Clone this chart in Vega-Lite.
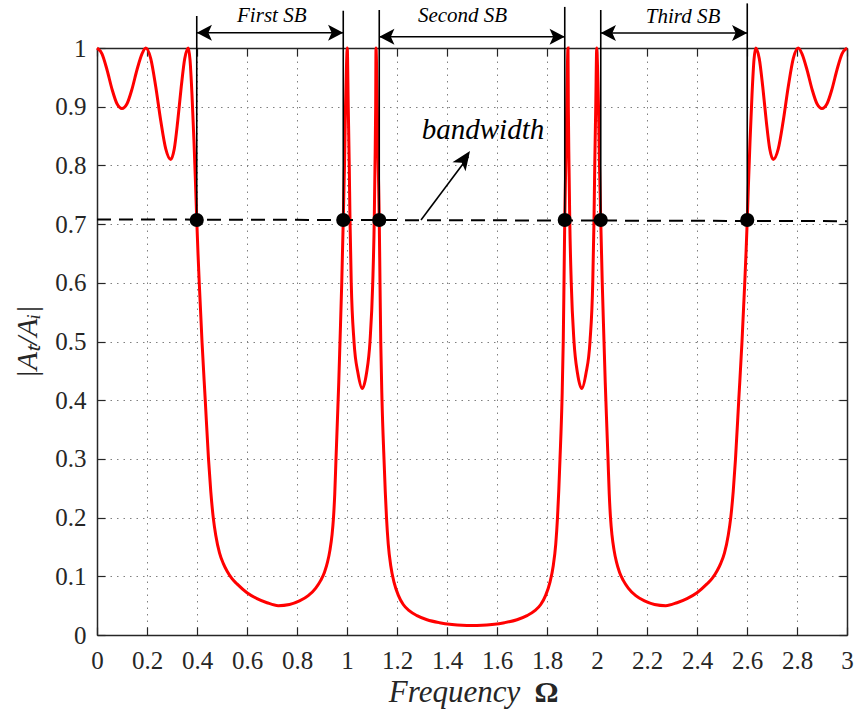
{
  "$schema": "https://vega.github.io/schema/vega-lite/v6.json",
  "width": 750,
  "height": 587,
  "autosize": {"type": "none"},
  "padding": {"left": 97, "top": 48, "right": 10, "bottom": 80},
  "background": "white",
  "config": {"view": {"stroke": null}},
  "datasets": {
    "curve": [
      {"x":0,"y":1.0},{"x":0.02,"y":0.99},{"x":0.04,"y":0.963},{"x":0.06,"y":0.93},{"x":0.08,"y":0.905},{"x":0.1,"y":0.897},{"x":0.12,"y":0.905},{"x":0.14,"y":0.93},{"x":0.16,"y":0.963},{"x":0.18,"y":0.99},{"x":0.195,"y":1.0},
      {"x":0.215,"y":0.982},{"x":0.235,"y":0.934},{"x":0.255,"y":0.876},{"x":0.275,"y":0.828},{"x":0.295,"y":0.81},{"x":0.309,"y":0.828},{"x":0.323,"y":0.876},{"x":0.337,"y":0.934},{"x":0.351,"y":0.982},{"x":0.365,"y":1.0},
      {"x":0.372,"y":0.98},{"x":0.38,"y":0.92},{"x":0.388,"y":0.84},{"x":0.394,"y":0.77},{"x":0.399,"y":0.707},{"x":0.404,"y":0.65},{"x":0.409,"y":0.6},{"x":0.42,"y":0.5},{"x":0.433,"y":0.4},{"x":0.446,"y":0.3},{"x":0.455,"y":0.245},{"x":0.465,"y":0.2},{"x":0.475,"y":0.17},{"x":0.49,"y":0.14},{"x":0.505,"y":0.122},{"x":0.52,"y":0.109},{"x":0.54,"y":0.096},{"x":0.56,"y":0.087},{"x":0.6,"y":0.072},{"x":0.64,"y":0.062},{"x":0.68,"y":0.055},{"x":0.725,"y":0.05},
      {"x":0.77,"y":0.052},{"x":0.81,"y":0.058},{"x":0.845,"y":0.067},{"x":0.875,"y":0.08},{"x":0.895,"y":0.093},{"x":0.91,"y":0.107},{"x":0.922,"y":0.124},{"x":0.932,"y":0.145},{"x":0.94,"y":0.17},{"x":0.946,"y":0.2},{"x":0.951,"y":0.24},{"x":0.956,"y":0.3},{"x":0.962,"y":0.37},{"x":0.967,"y":0.43},{"x":0.972,"y":0.5},{"x":0.979,"y":0.6},{"x":0.985,"y":0.707},{"x":0.99,"y":0.8},{"x":0.994,"y":0.9},{"x":0.998,"y":0.97},{"x":1.001,"y":1.0},
      {"x":1.005,"y":0.9},{"x":1.009,"y":0.8},{"x":1.012,"y":0.707},{"x":1.017,"y":0.6},{"x":1.028,"y":0.5},{"x":1.044,"y":0.446},{"x":1.061,"y":0.42},{"x":1.078,"y":0.446},{"x":1.092,"y":0.5},{"x":1.103,"y":0.6},{"x":1.109,"y":0.707},{"x":1.112,"y":0.8},{"x":1.1147,"y":0.9},{"x":1.116,"y":1.0},
      {"x":1.12,"y":0.93},{"x":1.125,"y":0.8},{"x":1.129,"y":0.707},{"x":1.132,"y":0.6},{"x":1.135,"y":0.5},{"x":1.14,"y":0.4},{"x":1.148,"y":0.3},{"x":1.153,"y":0.245},{"x":1.158,"y":0.2},{"x":1.165,"y":0.155},{"x":1.175,"y":0.118},{"x":1.188,"y":0.09},{"x":1.205,"y":0.068},{"x":1.225,"y":0.052},{"x":1.25,"y":0.041},{"x":1.28,"y":0.033},{"x":1.32,"y":0.026},{"x":1.37,"y":0.021},{"x":1.42,"y":0.018},{"x":1.46,"y":0.0165},{"x":1.5,"y":0.016},
      {"x":1.54,"y":0.0165},{"x":1.58,"y":0.018},{"x":1.63,"y":0.021},{"x":1.68,"y":0.026},{"x":1.72,"y":0.033},{"x":1.75,"y":0.041},{"x":1.775,"y":0.052},{"x":1.795,"y":0.068},{"x":1.812,"y":0.09},{"x":1.825,"y":0.118},{"x":1.835,"y":0.155},{"x":1.842,"y":0.2},{"x":1.847,"y":0.245},{"x":1.852,"y":0.3},{"x":1.86,"y":0.4},{"x":1.865,"y":0.5},{"x":1.868,"y":0.6},{"x":1.871,"y":0.707},{"x":1.875,"y":0.8},{"x":1.88,"y":0.93},{"x":1.884,"y":1.0},
      {"x":1.8853,"y":0.9},{"x":1.888,"y":0.8},{"x":1.891,"y":0.707},{"x":1.897,"y":0.6},{"x":1.908,"y":0.5},{"x":1.922,"y":0.446},{"x":1.939,"y":0.42},{"x":1.956,"y":0.446},{"x":1.972,"y":0.5},{"x":1.983,"y":0.6},{"x":1.988,"y":0.707},{"x":1.991,"y":0.8},{"x":1.995,"y":0.9},{"x":1.999,"y":1.0},
      {"x":2.002,"y":0.97},{"x":2.006,"y":0.9},{"x":2.01,"y":0.8},{"x":2.015,"y":0.707},{"x":2.021,"y":0.6},{"x":2.028,"y":0.5},{"x":2.033,"y":0.43},{"x":2.038,"y":0.37},{"x":2.044,"y":0.3},{"x":2.049,"y":0.24},{"x":2.054,"y":0.2},{"x":2.06,"y":0.17},{"x":2.068,"y":0.145},{"x":2.078,"y":0.124},{"x":2.09,"y":0.107},{"x":2.105,"y":0.093},{"x":2.125,"y":0.08},{"x":2.155,"y":0.067},{"x":2.19,"y":0.058},{"x":2.23,"y":0.052},{"x":2.275,"y":0.05},
      {"x":2.32,"y":0.055},{"x":2.36,"y":0.062},{"x":2.4,"y":0.072},{"x":2.44,"y":0.087},{"x":2.46,"y":0.096},{"x":2.48,"y":0.109},{"x":2.495,"y":0.122},{"x":2.51,"y":0.14},{"x":2.525,"y":0.17},{"x":2.535,"y":0.2},{"x":2.545,"y":0.245},{"x":2.554,"y":0.3},{"x":2.567,"y":0.4},{"x":2.58,"y":0.5},{"x":2.591,"y":0.6},{"x":2.596,"y":0.65},{"x":2.601,"y":0.707},{"x":2.606,"y":0.77},{"x":2.612,"y":0.84},{"x":2.62,"y":0.92},{"x":2.628,"y":0.98},{"x":2.635,"y":1.0},
      {"x":2.649,"y":0.982},{"x":2.663,"y":0.934},{"x":2.677,"y":0.876},{"x":2.691,"y":0.828},{"x":2.705,"y":0.81},{"x":2.725,"y":0.828},{"x":2.745,"y":0.876},{"x":2.765,"y":0.934},{"x":2.785,"y":0.982},{"x":2.805,"y":1.0},
      {"x":2.82,"y":0.99},{"x":2.84,"y":0.963},{"x":2.86,"y":0.93},{"x":2.88,"y":0.905},{"x":2.9,"y":0.897},{"x":2.92,"y":0.905},{"x":2.94,"y":0.93},{"x":2.96,"y":0.963},{"x":2.98,"y":0.99},{"x":3,"y":1.0}
    ],
    "dots": [
      {"x":0.399,"y":0.707,"top":1.0545},
      {"x":0.985,"y":0.707,"top":1.0635},
      {"x":1.129,"y":0.707,"top":1.0647},
      {"x":1.871,"y":0.707,"top":1.07},
      {"x":2.015,"y":0.707,"top":1.0647},
      {"x":2.601,"y":0.707,"top":1.076}
    ],
    "halfpower": [{"x":0,"y":0.708,"x2":3,"y2":0.705}],
    "arrows": [
      {"x1":0.399,"x2":0.985,"y":1.0261},
      {"x1":1.129,"x2":1.871,"y":1.0193},
      {"x1":2.015,"x2":2.601,"y":1.0256}
    ],
    "sblabels": [
      {"x":0.699,"y":1.054,"t":"First SB"},
      {"x":1.462,"y":1.055,"t":"Second SB"},
      {"x":2.344,"y":1.052,"t":"Third SB"}
    ],
    "bw": [{"x":1.296,"y":0.707,"x2":1.486,"y2":0.815}],
    "bwhead": [{"x":1.492,"y":0.8245}],
    "bwlabel": [{"x":1.544,"y":0.845,"t":"bandwidth"}],
    "omega": [{"x":1.798,"y":-0.1145,"t":"Ω"}]
  },
  "layer": [
    {
      "data": {"name": "curve"},
      "mark": {"type": "line", "color": "#ff0000", "strokeWidth": 3, "interpolate": "monotone"},
      "encoding": {
        "x": {"field": "x", "type": "quantitative",
          "scale": {"domain": [0, 3], "nice": false, "zero": false},
          "axis": {"orient": "bottom", "values": [0,0.2,0.4,0.6,0.8,1,1.2,1.4,1.6,1.8,2,2.2,2.4,2.6,2.8,3], "format": "~g",
            "labelFont": "Liberation Serif", "labelFontSize": 25, "labelColor": "#262626", "labelFlush": false, "labelOverlap": false,
            "labelBaseline": "top", "labelAlign": "center",
            "labelPadding": 21, "tickSize": -8, "tickColor": "#262626", "tickWidth": 1.2,
            "domainColor": "#262626", "domainWidth": 1.5,
            "grid": true, "gridColor": "#808080", "gridDash": [1.5, 5], "gridWidth": 1,
            "title": "Frequency", "titleFont": "Liberation Serif", "titleFontStyle": "italic", "titleFontWeight": "normal",
            "titleFontSize": 31, "titleColor": "#262626", "titlePadding": 4, "titleX": 357}},
        "y": {"field": "y", "type": "quantitative",
          "scale": {"domain": [0, 1], "nice": false, "zero": false},
          "axis": {"orient": "left", "values": [0,0.1,0.2,0.3,0.4,0.5,0.6,0.7,0.8,0.9,1], "format": "~g",
            "labelFont": "Liberation Serif", "labelFontSize": 25, "labelColor": "#262626", "labelFlush": false, "labelOverlap": false,
            "labelBaseline": "middle", "labelAlign": "right",
            "labelPadding": 19, "tickSize": -8, "tickColor": "#262626", "tickWidth": 1.2,
            "domainColor": "#262626", "domainWidth": 1.5,
            "grid": true, "gridColor": "#808080", "gridDash": [1.5, 5], "gridWidth": 1,
            "title": "|Aₜ/Aᵢ|", "titleFont": "Liberation Serif", "titleFontStyle": "italic", "titleFontWeight": "normal",
            "titleFontSize": 30, "titleColor": "#262626", "titlePadding": 12}}
      }
    },
    {
      "data": {"name": "halfpower"},
      "mark": {"type": "rule", "color": "black", "strokeWidth": 2, "strokeDash": [14, 8]},
      "encoding": {
        "x": {"field": "x", "type": "quantitative", "axis": null},
        "y": {"field": "y", "type": "quantitative", "axis": null},
        "x2": {"field": "x2"},
        "y2": {"field": "y2"}
      }
    },
    {
      "data": {"name": "dots"},
      "mark": {"type": "rule", "color": "black", "strokeWidth": 1.6},
      "encoding": {
        "x": {"field": "x", "type": "quantitative", "axis": null},
        "y": {"field": "y", "type": "quantitative", "axis": null},
        "y2": {"field": "top"}
      }
    },
    {
      "data": {"name": "dots"},
      "mark": {"type": "point", "filled": true, "color": "black", "size": 200, "opacity": 1},
      "encoding": {
        "x": {"field": "x", "type": "quantitative",
          "axis": {"orient": "top", "values": [0,0.2,0.4,0.6,0.8,1,1.2,1.4,1.6,1.8,2,2.2,2.4,2.6,2.8,3], "labels": false, "grid": false, "title": null,
            "tickSize": -8, "tickColor": "#262626", "tickWidth": 1.2, "domainColor": "#262626", "domainWidth": 1.5}},
        "y": {"field": "y", "type": "quantitative",
          "axis": {"orient": "right", "values": [0,0.1,0.2,0.3,0.4,0.5,0.6,0.7,0.8,0.9,1], "labels": false, "grid": false, "title": null,
            "tickSize": -8, "tickColor": "#262626", "tickWidth": 1.2, "domainColor": "#262626", "domainWidth": 1.5}}
      }
    },
    {
      "data": {"name": "arrows"},
      "mark": {"type": "rule", "color": "black", "strokeWidth": 1.5},
      "encoding": {
        "x": {"field": "x1", "type": "quantitative", "axis": null},
        "x2": {"field": "x2"},
        "y": {"field": "y", "type": "quantitative", "axis": null}
      }
    },
    {
      "data": {"name": "arrows"},
      "mark": {"type": "point", "filled": true, "color": "black", "opacity": 1, "size": 256, "shape": "M0,0L1.9,-1L1.45,0L1.9,1Z"},
      "encoding": {
        "x": {"field": "x1", "type": "quantitative", "axis": null},
        "y": {"field": "y", "type": "quantitative", "axis": null}
      }
    },
    {
      "data": {"name": "arrows"},
      "mark": {"type": "point", "filled": true, "color": "black", "opacity": 1, "size": 256, "shape": "M0,0L-1.9,-1L-1.45,0L-1.9,1Z"},
      "encoding": {
        "x": {"field": "x2", "type": "quantitative", "axis": null},
        "y": {"field": "y", "type": "quantitative", "axis": null}
      }
    },
    {
      "data": {"name": "sblabels"},
      "mark": {"type": "text", "font": "Liberation Serif", "fontStyle": "italic", "fontSize": 21, "color": "black", "baseline": "middle", "align": "center"},
      "encoding": {
        "x": {"field": "x", "type": "quantitative", "axis": null},
        "y": {"field": "y", "type": "quantitative", "axis": null},
        "text": {"field": "t"}
      }
    },
    {
      "data": {"name": "bw"},
      "mark": {"type": "rule", "color": "black", "strokeWidth": 1.6},
      "encoding": {
        "x": {"field": "x", "type": "quantitative", "axis": null},
        "y": {"field": "y", "type": "quantitative", "axis": null},
        "x2": {"field": "x2"},
        "y2": {"field": "y2"}
      }
    },
    {
      "data": {"name": "bwhead"},
      "mark": {"type": "point", "filled": true, "color": "black", "opacity": 1, "size": 256, "angle": 35, "shape": "M0,0L-1,2.4L0,1.8L1,2.4Z"},
      "encoding": {
        "x": {"field": "x", "type": "quantitative", "axis": null},
        "y": {"field": "y", "type": "quantitative", "axis": null}
      }
    },
    {
      "data": {"name": "bwlabel"},
      "mark": {"type": "text", "font": "Liberation Serif", "fontStyle": "italic", "fontSize": 29, "color": "black", "baseline": "alphabetic", "align": "center"},
      "encoding": {
        "x": {"field": "x", "type": "quantitative", "axis": null},
        "y": {"field": "y", "type": "quantitative", "axis": null},
        "text": {"field": "t"}
      }
    },
    {
      "data": {"name": "omega"},
      "mark": {"type": "text", "font": "Liberation Serif", "fontWeight": "bold", "fontSize": 30, "color": "#262626", "baseline": "alphabetic", "align": "center"},
      "encoding": {
        "x": {"field": "x", "type": "quantitative", "axis": null},
        "y": {"field": "y", "type": "quantitative", "axis": null},
        "text": {"field": "t"}
      }
    }
  ],
  "resolve": {"axis": {"x": "independent", "y": "independent"}}
}
